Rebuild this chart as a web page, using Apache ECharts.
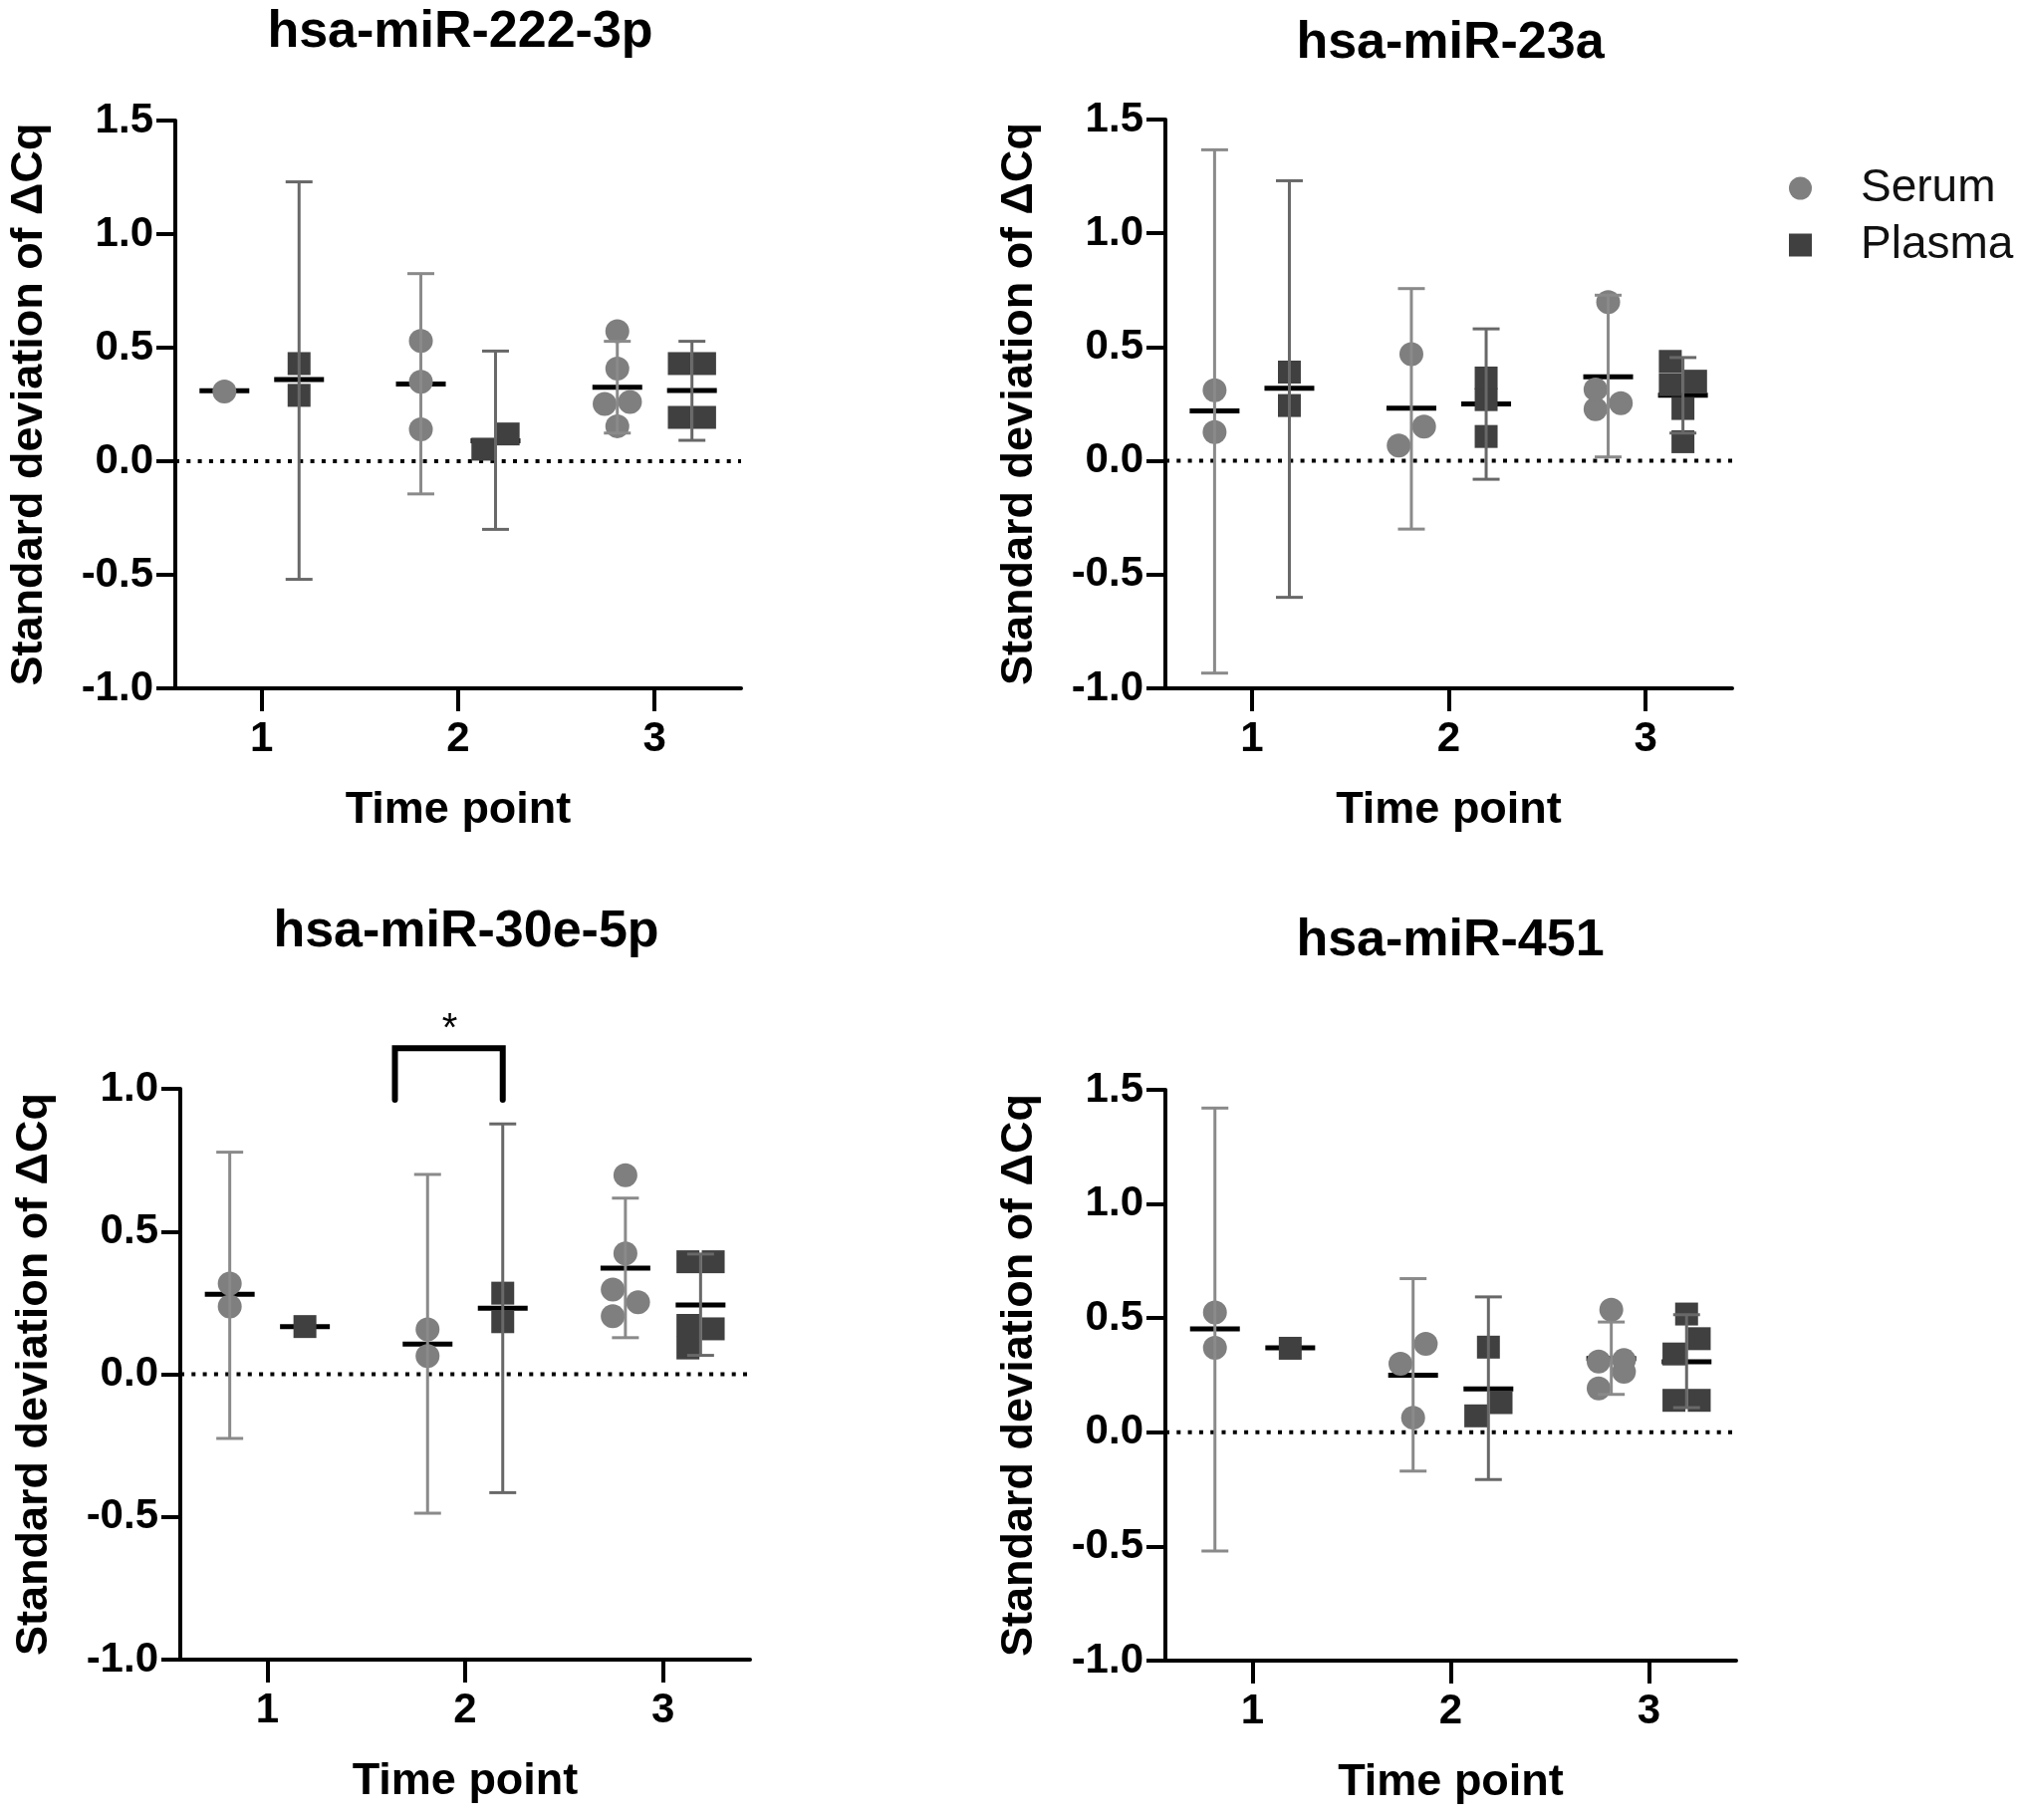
<!DOCTYPE html>
<html>
<head>
<meta charset="utf-8">
<script src="https://cdn.jsdelivr.net/npm/echarts@6/dist/echarts.min.js"></script>
<style>
html,body{margin:0;padding:0;background:#ffffff;}
#chart{width:2031px;height:1827px;}
</style>
</head>
<body>
<div id="chart"></div>
<script>
// ---------------- DATA ----------------
const timePoints = [1, 2, 3];
const panelTitles = ['hsa-miR-222-3p', 'hsa-miR-23a', 'hsa-miR-30e-5p', 'hsa-miR-451'];
const yAxisMax = [1.5, 1.5, 1.0, 1.5];
const yAxisMin = -1.0;
const yTickStep = 0.5;
const seriesNames = ['Serum', 'Plasma'];

// hsa-miR-222-3p
const serum222 = [[0.307], [0.53, 0.35, 0.14], [0.572, 0.408, 0.261, 0.252, 0.154]];
const serum222Mean = [0.31, 0.34, 0.326];
const serum222Low = [null, -0.144, 0.124];
const serum222High = [null, 0.826, 0.528];
const plasma222 = [[0.43, 0.29], [0.12, 0.053], [0.43, 0.43, 0.193, 0.193]];
const plasma222Mean = [0.36, 0.09, 0.311];
const plasma222Low = [-0.52, -0.30, 0.092];
const plasma222High = [1.23, 0.485, 0.528];

// hsa-miR-23a
const serum23a = [[0.31, 0.126], [0.469, 0.15, 0.067], [0.698, 0.314, 0.253, 0.227]];
const serum23aMean = [0.219, 0.231, 0.369];
const serum23aLow = [-0.933, -0.30, 0.017];
const serum23aHigh = [1.367, 0.757, 0.728];
const plasma23a = [[0.39, 0.243], [0.364, 0.269, 0.107], [0.437, 0.35, 0.335, 0.23, 0.084]];
const plasma23aMean = [0.319, 0.25, 0.288];
const plasma23aLow = [-0.60, -0.081, 0.122];
const plasma23aHigh = [1.231, 0.58, 0.454];

// hsa-miR-30e-5p
const serum30e = [[0.318, 0.237], [0.157, 0.064], [0.697, 0.423, 0.297, 0.252, 0.203]];
const serum30eMean = [0.28, 0.106, 0.372];
const serum30eLow = [-0.225, -0.487, 0.128];
const serum30eHigh = [0.778, 0.70, 0.617];
const plasma30e = [[0.167], [0.284, 0.184], [0.394, 0.394, 0.171, 0.159, 0.092]];
const plasma30eMean = [0.167, 0.231, 0.243];
const plasma30eLow = [null, -0.415, 0.066];
const plasma30eHigh = [null, 0.877, 0.421];
// significance annotation (time point 2, serum vs plasma)
const sig30e = { x1: 1.645, x2: 2.19, yTop: 1.142, yLeg: 0.962, label: '*' };

// hsa-miR-451
const serum451 = [[0.525, 0.37], [0.387, 0.30, 0.064], [0.537, 0.316, 0.31, 0.265, 0.192]];
const serum451Mean = [0.453, 0.25, 0.323];
const serum451Low = [-0.52, -0.17, 0.166];
const serum451High = [1.42, 0.673, 0.483];
const plasma451 = [[0.368], [0.373, 0.13, 0.072], [0.518, 0.41, 0.343, 0.14, 0.14]];
const plasma451Mean = [0.37, 0.19, 0.309];
const plasma451Low = [null, -0.207, 0.108];
const plasma451High = [null, 0.593, 0.515];

// ---------------- LAYOUT / STYLE ----------------
const FONT = '"Liberation Sans", Arial, Helvetica, sans-serif';
const X_MIN = 0.56, X_MAX = 3.44;
const GROUP_OFFSET = 0.19;
const SERUM_COLOR = '#7f7f7f', PLASMA_COLOR = '#404040';
const SERUM_BAR = '#8a8a8a', PLASMA_BAR = '#686868';

const grids = [
  { left: 176, top: 121, width: 568, height: 570 },
  { left: 1170, top: 120, width: 569, height: 571 },
  { left: 181, top: 1093, width: 572, height: 573 },
  { left: 1170, top: 1094, width: 573, height: 573 }
];
const titlePos = [[462, 35], [1456, 46], [468, 938], [1456, 947]];

const panels = [
  { s: [serum222, serum222Mean, serum222Low, serum222High], p: [plasma222, plasma222Mean, plasma222Low, plasma222High] },
  { s: [serum23a, serum23aMean, serum23aLow, serum23aHigh], p: [plasma23a, plasma23aMean, plasma23aLow, plasma23aHigh] },
  { s: [serum30e, serum30eMean, serum30eLow, serum30eHigh], p: [plasma30e, plasma30eMean, plasma30eLow, plasma30eHigh], sig: sig30e },
  { s: [serum451, serum451Mean, serum451Low, serum451High], p: [plasma451, plasma451Mean, plasma451Low, plasma451High] }
];

// simple beeswarm: rows of points that would overlap vertically are spread left/right
function swarm(values, center, yPx, xPx) {
  const sorted = values.slice().sort((a, b) => a - b);
  const rows = [];
  let cur = [];
  sorted.forEach((v, i) => {
    if (i > 0 && (v - sorted[i - 1]) * yPx < 21) cur.push(v);
    else { if (cur.length) rows.push(cur); cur = [v]; }
  });
  if (cur.length) rows.push(cur);
  const pts = [];
  const h = 12.7;
  rows.forEach(row => {
    row.forEach((v, j) => {
      const off = row.length === 1 ? 0 : (j % 2 === 0 ? -h : h);
      pts.push([center + off / xPx, v]);
    });
  });
  return pts;
}

function errRender(color) {
  return function (params, api) {
    const x = api.value(0), lo = api.value(1), hi = api.value(2);
    const t = api.coord([x, hi]), b = api.coord([x, lo]);
    const c = 13.5;
    const st = { stroke: color, lineWidth: 3 };
    return {
      type: 'group', children: [
        { type: 'line', shape: { x1: t[0], y1: t[1], x2: b[0], y2: b[1] }, style: st },
        { type: 'line', shape: { x1: t[0] - c, y1: t[1], x2: t[0] + c, y2: t[1] }, style: st },
        { type: 'line', shape: { x1: b[0] - c, y1: b[1], x2: b[0] + c, y2: b[1] }, style: st }
      ]
    };
  };
}
function meanRender(params, api) {
  const p = api.coord([api.value(0), api.value(1)]);
  return { type: 'line', shape: { x1: p[0] - 25, y1: p[1], x2: p[0] + 25, y2: p[1] }, style: { stroke: '#000', lineWidth: 5 } };
}
function sigRender(params, api) {
  const a = api.coord([api.value(0), api.value(3)]);
  const b = api.coord([api.value(0), api.value(2)]);
  const c = api.coord([api.value(1), api.value(2)]);
  const d = api.coord([api.value(1), api.value(3)]);
  const s = api.coord([api.value(4), api.value(5)]);
  return {
    type: 'group', children: [
      { type: 'polyline', shape: { points: [a, b, c, d] }, style: { stroke: '#000', lineWidth: 6, fill: null, lineCap: 'round', lineJoin: 'miter' } },
      { type: 'text', style: { x: s[0], y: s[1], text: '*', fontSize: 40, fontFamily: FONT, fill: '#000', align: 'center', verticalAlign: 'middle' } }
    ]
  };
}

const option = {
  animation: false,
  backgroundColor: '#ffffff',
  title: panelTitles.map((t, i) => ({
    text: t, left: titlePos[i][0], top: titlePos[i][1] - 28, textAlign: 'center', padding: 0,
    textStyle: { fontSize: 52, fontWeight: 'bold', fontFamily: FONT, color: '#000' }
  })),
  legend: {
    orient: 'vertical', left: 1791, top: 161, itemWidth: 23, itemHeight: 23, itemGap: 11,
    selectedMode: false,
    data: [{ name: 'Serum', icon: 'circle' }, { name: 'Plasma', icon: 'rect', itemStyle: { color: PLASMA_COLOR } }],
    textStyle: { fontSize: 46, fontFamily: FONT, color: '#111', padding: [0, 0, 0, 44] }
  },
  grid: grids.map(g => Object.assign({ containLabel: false }, g)),
  xAxis: grids.map((g, i) => ({
    type: 'value', gridIndex: i, min: X_MIN, max: X_MAX,
    name: 'Time point', nameLocation: 'middle', nameGap: 100,
    nameTextStyle: { fontSize: 45, fontWeight: 'bold', fontFamily: FONT, color: '#000' },
    axisLine: { show: true, onZero: false, lineStyle: { color: '#000', width: 4 } },
    axisTick: { show: true, length: 23, lineStyle: { color: '#000', width: 4 }, customValues: timePoints },
    axisLabel: { customValues: timePoints, margin: 30, fontSize: 42, fontWeight: 'bold', fontFamily: FONT, color: '#000', formatter: v => String(v) },
    splitLine: { show: false }
  })),
  yAxis: grids.map((g, i) => ({
    type: 'value', gridIndex: i, min: yAxisMin, max: yAxisMax[i], interval: yTickStep,
    name: 'Standard deviation of ΔCq', nameLocation: 'middle', nameGap: 124,
    nameTextStyle: { fontSize: 45, fontWeight: 'bold', fontFamily: FONT, color: '#000' },
    axisLine: { show: true, lineStyle: { color: '#000', width: 4 } },
    axisTick: { show: true, length: 19, lineStyle: { color: '#000', width: 4 } },
    axisLabel: { margin: 22, fontSize: 42, fontWeight: 'bold', fontFamily: FONT, color: '#000', formatter: v => v.toFixed(1) },
    splitLine: { show: false }
  })),
  series: []
};

panels.forEach((pn, i) => {
  const g = grids[i];
  const xPx = g.width / (X_MAX - X_MIN);
  const yPx = g.height / (yAxisMax[i] - yAxisMin);
  // zero reference line
  option.series.push({
    type: 'line', xAxisIndex: i, yAxisIndex: i, z: 1, symbol: 'none', silent: true,
    data: [[X_MIN, 0], [X_MAX, 0]],
    lineStyle: { color: '#000', width: 4, type: [4, 7.3] }
  });
  [['s', 'Serum', -GROUP_OFFSET, SERUM_COLOR, SERUM_BAR, 'circle', 24],
   ['p', 'Plasma', GROUP_OFFSET, PLASMA_COLOR, PLASMA_BAR, 'rect', 23]].forEach(cfg => {
    const [vals, means, lows, highs] = pn[cfg[0]];
    const pts = [];
    const errs = [];
    const mns = [];
    timePoints.forEach((t, k) => {
      const cx = t + cfg[2];
      swarm(vals[k], cx, yPx, xPx).forEach(p => pts.push(p));
      if (lows[k] !== null && highs[k] !== null) errs.push([cx, lows[k], highs[k]]);
      mns.push([cx, means[k]]);
    });
    option.series.push({
      name: cfg[1] + ' mean', type: 'custom', xAxisIndex: i, yAxisIndex: i, z: 2, silent: true,
      renderItem: meanRender, encode: { x: 0, y: 1 }, data: mns
    });
    option.series.push({
      name: cfg[1], type: 'scatter', xAxisIndex: i, yAxisIndex: i, z: 3,
      symbol: cfg[5], symbolSize: cfg[6], itemStyle: { color: cfg[3], opacity: 1 },
      data: pts
    });
    option.series.push({
      name: cfg[1] + ' 95% CI', type: 'custom', xAxisIndex: i, yAxisIndex: i, z: 4, silent: true,
      renderItem: errRender(cfg[4]), encode: { x: 0, y: [1, 2] }, data: errs
    });
  });
  if (pn.sig) {
    const s = pn.sig;
    option.series.push({
      name: 'significance', type: 'custom', xAxisIndex: i, yAxisIndex: i, z: 5, silent: true, clip: false,
      renderItem: sigRender, encode: { x: [0, 1], y: [2, 3] },
      data: [[s.x1, s.x2, s.yTop, s.yLeg, (s.x1 + s.x2) / 2 + 0.005, s.yTop + 0.065]]
    });
  }
});

const chart = echarts.init(document.getElementById('chart'), null, { renderer: 'canvas' });
chart.setOption(option);
</script>
</body>
</html>
